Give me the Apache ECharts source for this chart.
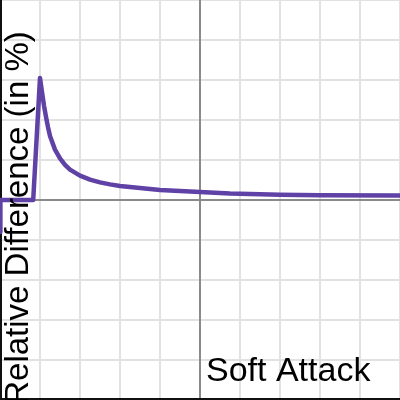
<!DOCTYPE html>
<html>
<head>
<meta charset="utf-8">
<script src="https://cdn.jsdelivr.net/npm/echarts@6/dist/echarts.min.js"></script>
<style>
  html, body { margin: 0; padding: 0; background: #fff; }
  #chart { width: 400px; height: 400px; }
</style>
</head>
<body>
<div id="chart"></div>
<script>
// x positions (grid units) and relative difference values
const attackX = [-4.99, -4.99, -4.17, -4, -3.95, -3.9, -3.85, -3.8, -3.75, -3.625, -3.5, -3.375, -3.25, -3, -2.75, -2.5, -2.25, -2, -1.5, -1, 0, 0.75, 2, 3, 5]
const attackDiff = [-0.8, 0, 0, 3.05, 2.7, 2.36, 2.08, 1.82, 1.6, 1.26, 1.04, 0.88, 0.76, 0.61, 0.51, 0.44, 0.39, 0.35, 0.3, 0.25, 0.2, 0.16, 0.13, 0.12, 0.11]

const yTitle = 'Relative Difference (in %)'
const curveLabel = 'Soft Attack'

const chart = echarts.init(document.getElementById('chart'))

const option = {
  animation: false,
  grid: { left: 0, right: 0, top: 0, bottom: 0 },
  xAxis: [
    {
      type: 'value',
      min: -5,
      max: 5,
      interval: 1,
      axisLine: { onZero: true, lineStyle: { color: '#8a8a8a', width: 2 } },
      axisTick: { show: false },
      axisLabel: { show: false },
      splitLine: { lineStyle: { color: '#e2e2e2', width: 2 } }
    },
    {
      // frame along the bottom edge
      type: 'value',
      position: 'bottom',
      min: -5,
      max: 5,
      axisLine: { show: true, onZero: false, lineStyle: { color: '#111', width: 5 } },
      axisTick: { show: false },
      axisLabel: { show: false },
      splitLine: { show: false }
    }
  ],
  yAxis: [
    {
      type: 'value',
      min: -5,
      max: 5,
      interval: 1,
      axisLine: { onZero: true, lineStyle: { color: '#8a8a8a', width: 2 } },
      axisTick: { show: false },
      axisLabel: { show: false },
      splitLine: { lineStyle: { color: '#e2e2e2', width: 2 } }
    },
    {
      // frame along the left edge
      type: 'value',
      position: 'left',
      min: -5,
      max: 5,
      axisLine: { show: true, onZero: false, lineStyle: { color: '#111', width: 3 } },
      axisTick: { show: false },
      axisLabel: { show: false },
      splitLine: { show: false }
    }
  ],
  series: [
    {
      type: 'line',
      data: attackX.map((x, i) => [x, attackDiff[i]]),
      showSymbol: false,
      lineStyle: { color: '#6042a6', width: 4.5, join: 'round', cap: 'round' },
      z: 5
    }
  ],
  graphic: [
    {
      type: 'text',
      x: 19,
      y: 218,
      rotation: Math.PI / 2,
      z: 10,
      style: {
        text: yTitle,
        fill: '#000',
        font: '33px "Liberation Sans", Arial, sans-serif',
        textAlign: 'center',
        textVerticalAlign: 'middle'
      }
    },
    {
      type: 'text',
      x: 206,
      y: 372,
      z: 10,
      style: {
        text: curveLabel,
        fill: '#000',
        font: '34px "Liberation Sans", Arial, sans-serif',
        textAlign: 'left',
        textVerticalAlign: 'middle'
      }
    }
  ]
}

chart.setOption(option)
</script>
</body>
</html>
